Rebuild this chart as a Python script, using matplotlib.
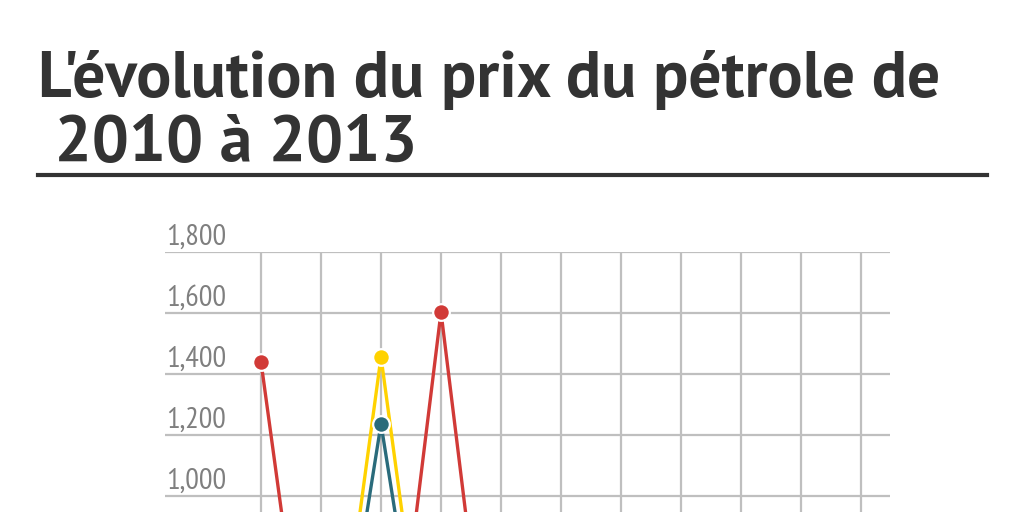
import matplotlib
matplotlib.use("Agg")
import matplotlib.pyplot as plt
import matplotlib.transforms as mtransforms
from matplotlib import font_manager as fm

# ---- data ----
categories = ["1", "2", "3", "4", "5", "6", "7", "8", "9", "10", "11"]
series_red = [1440, 0, 0, 1603, 0, 0, 0, 0, 0, 0, 0]
series_yellow = [0, 0, 1456, 0, 0, 0, 0, 0, 0, 0, 0]
series_teal = [0, 0, 1236, 0, 0, 0, 0, 0, 0, 0, 0]
y_ticks = [1000, 1200, 1400, 1600, 1800]
title_line1 = "L'évolution du prix du pétrole de"
title_line2 = " 2010 à 2013"

installed = {f.name for f in fm.fontManager.ttflist}
def pick(prefs):
    for p in prefs:
        if p in installed:
            return [p, "DejaVu Sans"]
    return ["DejaVu Sans"]

title_font = pick(["PT Sans", "PT Sans Narrow", "Fira Sans Condensed"])
tick_font = pick(["PT Sans Narrow", "PT Sans", "Fira Sans Condensed"])

W, H = 1024, 512
fig = plt.figure(figsize=(W / 100, H / 100), dpi=100)
fig.patch.set_facecolor("white")
renderer = fig.canvas.get_renderer()

def fit(t, target_w):
    bb = t.get_window_extent(renderer)
    t.set_fontsize(t.get_fontsize() * target_w / bb.width)

# axes geometry in pixels
left_px, right_px = 165, 890
top_px = 252          # y of 1800
zero_px = 801         # y of 0
ax = fig.add_axes([left_px / W, (H - zero_px) / H,
                   (right_px - left_px) / W, (zero_px - top_px) / H])
x = list(range(len(categories)))
px_per_cat = 60.0
ax.set_xlim((left_px - 261) / px_per_cat, (right_px - 261) / px_per_cat)
ax.set_ylim(0, 1800)
for s in ax.spines.values():
    s.set_visible(False)
ax.tick_params(left=False, bottom=False, labelleft=False, labelbottom=False)
ax.set_yticks(y_ticks)
ax.set_xticks(x)
ax.grid(True, color="#bfbfbf", linewidth=1.6, zorder=0)
ax.set_axisbelow(True)

trans = mtransforms.blended_transform_factory(ax.transAxes, ax.transData)
offset = mtransforms.ScaledTranslation(1 / 100, 7 / 100, fig.dpi_scale_trans)
for v in y_ticks:
    t = ax.text(0, v, f"{v:,}", transform=trans + offset, ha="left", va="baseline",
                fontsize=21, color="#7f7f7f", family=tick_font, clip_on=False)
    fit(t, 60)

colors = {"yellow": "#ffd200", "teal": "#2a6b7b", "red": "#d13a37"}
for data, c in [(series_yellow, colors["yellow"]),
                (series_teal, colors["teal"]),
                (series_red, colors["red"])]:
    ax.plot(x, data, color=c, linewidth=2.4, marker="o", markersize=12,
            markerfacecolor=c, markeredgecolor="white", markeredgewidth=1.6,
            zorder=3, clip_on=False)

# title
t1 = fig.text(38 / W, 1 - 97 / H, title_line1, ha="left", va="baseline",
              fontsize=46, fontweight="bold", color="#333333", family=title_font)
fit(t1, 902)
t2 = fig.text(38 / W, 1 - 161 / H, title_line2, ha="left", va="baseline",
              fontsize=t1.get_fontsize(), fontweight="bold", color="#333333",
              family=title_font)
fig.add_artist(plt.Line2D([38 / W, 987 / W], [1 - 175 / H, 1 - 175 / H],
                          color="#333333", linewidth=3))

fig.savefig("out.png", dpi=100)
